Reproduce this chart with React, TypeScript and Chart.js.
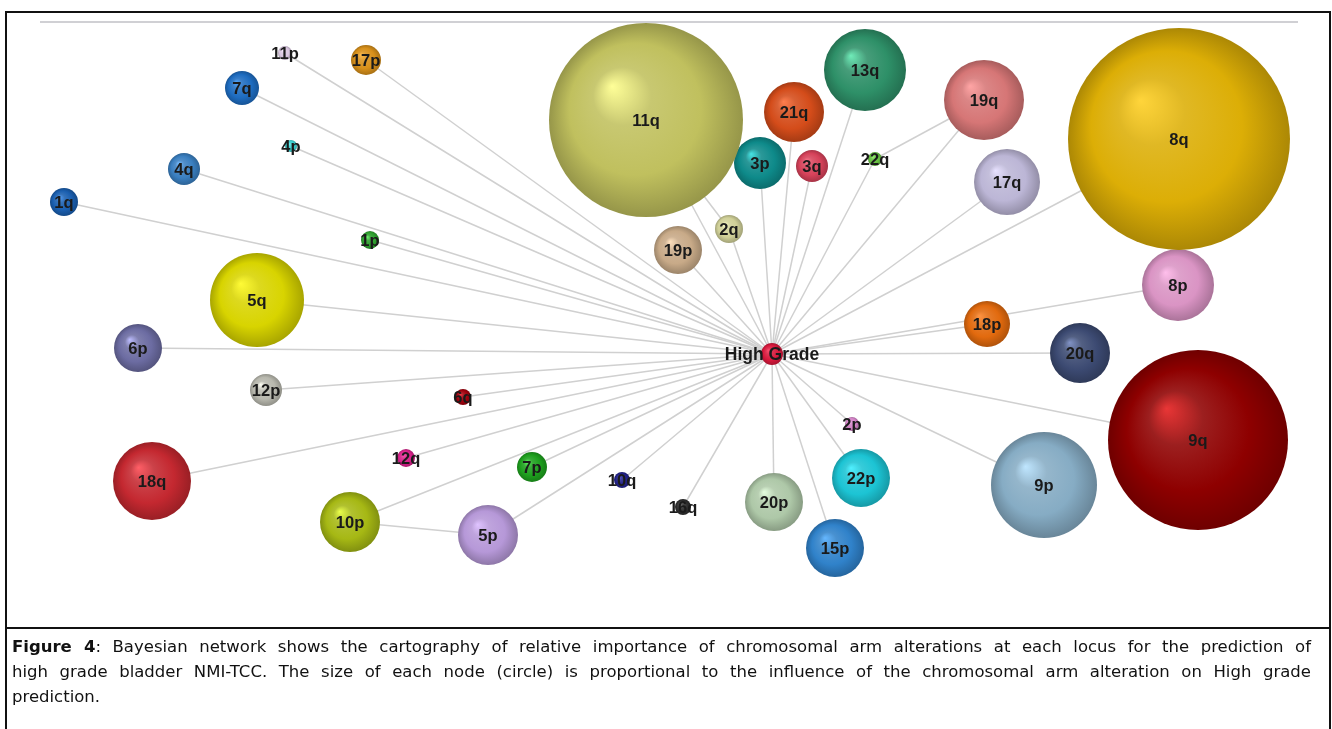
import React, { useEffect, useRef } from "react";
import { Chart, registerables } from "chart.js";
Chart.register(...registerables);

// Network layout (data units) and influence (node size) of each chromosomal arm alteration
const nodeNames = ["11p","17p","7q","4p","4q","1q","1p","5q","6p","12p","6q","12q","18q","7p","10q","16q","10p","5p","20p","15p","22p","2p","9p","9q","20q","18p","8p","8q","17q","19q","22q","13q","21q","3p","3q","11q","2q","19p"];
const nodeX = [285,366,242,291,184,64,370,257,138,266,463,406,152,532,622,683,350,488,774,835,861,852,1044,1198,1080,987,1178,1179,1007,984,875,865,794,760,812,646,729,678];
const nodeY = [53,60,88,146,169,202,240,300,348,390,397,458,481,467,480,507,522,535,502,548,478,424,485,440,353,324,285,139,182,100,159,70,112,163,166,120,229,250];
const nodeInfluence = [7,15,17,6,16,14,9,47,24,16,8,9,39,15,8,8,30,30,29,29,29,7,53,90,30,23,36,111,33,40,7,41,30,26,16,97,14,24];
const nodeColors = ["#d9c6e0","#d8901a","#1e6cc0","#3ad0d0","#3a7fc0","#1a5fb0","#2ea02e","#d8d400","#6c6ca2","#b8b8ae","#a0000c","#d8208a","#c42830","#1ea01e","#22228a","#2e2e2e","#a6b814","#b698d8","#aec8a8","#3082ca","#1cc4d4","#d484c8","#86acc4","#8e0000","#3c4a72","#e26a0e","#da94c4","#dcae06","#bcb6d6","#d67676","#66c040","#2e9068","#d44c1a","#0e8a8a","#d6425a","#c0c05e","#d0d098","#c8aa88"];

const hubName = "High Grade";
const hubX = [772];
const hubY = [354];
const hubInfluence = [11];
const hubColor = "#d8183c";

// Edges that do not go to the hub
const extraEdgesFrom = ["11q","10p","19q"];
const extraEdgesTo = ["2q","5p","22q"];

function hexToRgb(h: string) {
  const v = parseInt(h.slice(1), 16);
  return [(v >> 16) & 255, (v >> 8) & 255, v & 255];
}
function mix(h: string, target: number, t: number) {
  const [r, g, b] = hexToRgb(h);
  const m = (c: number) => Math.round(c + (target - c) * t);
  return `rgb(${m(r)},${m(g)},${m(b)})`;
}
// brighten while keeping saturation (scale channels up toward max)
function glow(h: string, t: number) {
  const [r, g, b] = hexToRgb(h);
  const mx = Math.max(r, g, b, 1);
  const k = Math.min(255 / mx, 1 + t);
  const f = (c: number) => Math.min(255, Math.round(c * k + (255 - c * k) * t * 0.35));
  return `rgb(${f(r)},${f(g)},${f(b)})`;
}

function sphereFill(colors: string[]) {
  return (ctx: any) => {
    const base = colors[ctx.dataIndex] ?? colors[0];
    const chart = ctx.chart;
    const raw = ctx.raw;
    if (!raw || !chart.scales || !chart.scales.x || !chart.scales.y) return base;
    const cx = chart.scales.x.getPixelForValue(raw.x);
    const cy = chart.scales.y.getPixelForValue(raw.y);
    const r = raw.r;
    if (!isFinite(cx) || !isFinite(cy) || !isFinite(r) || r <= 0) return base;
    const g = chart.ctx.createRadialGradient(cx - r * 0.35, cy - r * 0.35, 0, cx, cy, r);
    g.addColorStop(0, glow(base, 0.6));
    g.addColorStop(0.3, mix(base, 255, 0.12));
    g.addColorStop(0.68, base);
    g.addColorStop(1, mix(base, 0, 0.22));
    return g;
  };
}

const edgesPlugin = {
  id: "edges",
  beforeDatasetsDraw(chart: any) {
    const { ctx, scales } = chart;
    const px = (v: number) => scales.x.getPixelForValue(v);
    const py = (v: number) => scales.y.getPixelForValue(v);
    ctx.save();
    ctx.strokeStyle = "#d0d0d0";
    ctx.lineWidth = 1.5;
    const hx = px(hubX[0]);
    const hy = py(hubY[0]);
    nodeNames.forEach((_, i) => {
      ctx.beginPath();
      ctx.moveTo(px(nodeX[i]), py(nodeY[i]));
      ctx.lineTo(hx, hy);
      ctx.stroke();
    });
    extraEdgesFrom.forEach((a, k) => {
      const i = nodeNames.indexOf(a);
      const j = nodeNames.indexOf(extraEdgesTo[k]);
      ctx.beginPath();
      ctx.moveTo(px(nodeX[i]), py(nodeY[i]));
      ctx.lineTo(px(nodeX[j]), py(nodeY[j]));
      ctx.stroke();
    });
    ctx.restore();
  },
};

const labelsPlugin = {
  id: "nodeLabels",
  afterDatasetsDraw(chart: any) {
    const { ctx, scales } = chart;
    ctx.save();
    ctx.textAlign = "center";
    ctx.textBaseline = "middle";
    ctx.fillStyle = "#1a1a1a";
    ctx.font = "bold 16.5px 'Liberation Sans', Arial, sans-serif";
    nodeNames.forEach((n, i) => {
      ctx.fillText(n, scales.x.getPixelForValue(nodeX[i]), scales.y.getPixelForValue(nodeY[i]) + 1);
    });
    ctx.font = "bold 17.5px 'Liberation Sans', Arial, sans-serif";
    ctx.fillText(hubName, scales.x.getPixelForValue(hubX[0]), scales.y.getPixelForValue(hubY[0]) + 1);
    ctx.restore();
  },
};

export default function App() {
  const ref = useRef<HTMLCanvasElement>(null);
  useEffect(() => {
    document.body.style.margin = "0";
    const chart = new Chart(ref.current!, {
      type: "bubble",
      data: {
        datasets: [
          {
            label: hubName,
            data: hubX.map((x, i) => ({ x, y: hubY[i], r: hubInfluence[i] })),
            backgroundColor: sphereFill([hubColor]),
            borderWidth: 0,
            clip: false,
          } as any,
          {
            label: "arms",
            data: nodeNames.map((_, i) => ({ x: nodeX[i], y: nodeY[i], r: nodeInfluence[i] })),
            backgroundColor: sphereFill(nodeColors),
            borderWidth: 0,
            clip: false,
          } as any,
        ],
      },
      options: {
        animation: false,
        responsive: false,
        events: [],
        layout: { padding: 0, autoPadding: false },
        plugins: { legend: { display: false }, tooltip: { enabled: false } },
        scales: {
          x: { type: "linear", min: 0, max: 1332, display: false },
          y: { type: "linear", min: 0, max: 628, reverse: true, display: false },
        },
      },
      plugins: [edgesPlugin, labelsPlugin],
    });
    return () => chart.destroy();
  }, []);

  const lineStyle: React.CSSProperties = {
    textAlign: "justify",
    textAlignLast: "justify" as any,
    height: 25,
    lineHeight: "25px",
  };

  return (
    <div style={{ position: "relative", width: 1332, height: 729, background: "#fff", overflow: "hidden" }}>
      <canvas ref={ref} width={1332} height={628} style={{ position: "absolute", left: 0, top: 0 }} />
      {/* frame */}
      <div style={{ position: "absolute", left: 5, top: 11, width: 1326, height: 2, background: "#111" }} />
      <div style={{ position: "absolute", left: 5, top: 11, width: 2, height: 720, background: "#111" }} />
      <div style={{ position: "absolute", left: 1329, top: 11, width: 2, height: 720, background: "#111" }} />
      <div style={{ position: "absolute", left: 5, top: 627, width: 1326, height: 2, background: "#111" }} />
      {/* top rule inside the figure */}
      <div style={{ position: "absolute", left: 40, top: 21, width: 1258, height: 2, background: "#d0d0d4" }} />
      {/* caption */}
      <div
        style={{
          position: "absolute",
          left: 12,
          top: 634,
          width: 1299,
          fontFamily: "'DejaVu Sans', sans-serif",
          fontSize: 16.5,
          color: "#111",
        }}
      >
        <div style={lineStyle}>
          <b>Figure 4</b>: Bayesian network shows the cartography of relative importance of chromosomal arm alterations at each locus for the prediction of
        </div>
        <div style={lineStyle}>
          high grade bladder NMI-TCC. The size of each node (circle) is proportional to the influence of the chromosomal arm alteration on High grade
        </div>
        <div style={{ height: 25, lineHeight: "25px" }}>prediction.</div>
      </div>
    </div>
  );
}
